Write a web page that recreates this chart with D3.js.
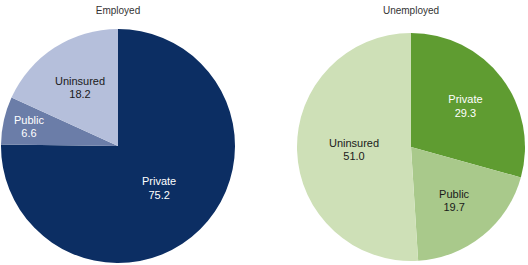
<!DOCTYPE html>
<html>
<head>
<meta charset="utf-8">
<script src="https://cdn.jsdelivr.net/npm/d3@7"></script>
<style>
	html, body { margin: 0; padding: 0; background: #fff; }
	svg { display: block; font-family: "Liberation Sans", Arial, sans-serif; }
</style>
</head>
<body>
<svg id="chart" width="528" height="265"></svg>
<script>
(function(d3) {
	'use strict';

	var groups = ['Employed', 'Unemployed'];
	var categories = ['Private', 'Public', 'Uninsured'];
	var employedValues = [75.2, 6.6, 18.2];
	var unemployedValues = [29.3, 19.7, 51.0];

	var palettes = {
		'Employed': ['#0c2e63', '#6b7da8', '#b5bfdb'],
		'Unemployed': ['#5f9c31', '#a9c98b', '#cee0b7']
	};
	var labelColors = {
		'Employed': ['#ffffff', '#ffffff', '#1a1a1a'],
		'Unemployed': ['#ffffff', '#1a1a1a', '#1a1a1a']
	};

	var svg = d3.select('#chart');
	var layout = [
		{ name: groups[0], values: employedValues, cx: 118, cy: 146, r: 117 },
		{ name: groups[1], values: unemployedValues, cx: 411, cy: 147, r: 114 }
	];

	var pie = d3.pie().sort(null).value(function(d) { return d; });

	layout.forEach(function(chart) {
		var g = svg.append('g').attr('transform', 'translate(' + chart.cx + ',' + chart.cy + ')');
		var total = d3.sum(chart.values);
		var arcs = pie(chart.values);
		var arc = d3.arc().innerRadius(0).outerRadius(chart.r);

		g.selectAll('path').data(arcs).enter().append('path')
			.attr('d', arc)
			.attr('fill', function(d, i) { return palettes[chart.name][i]; });

		/** labels: narrow slices pushed out, big slices pulled in */
		var labelArc = function(d) {
			var share = d.value / total;
			var ratio = share < 0.1 ? 0.78 : (share > 0.5 ? 0.5 : 0.6);
			var lr = ratio * chart.r;
			return d3.arc().innerRadius(lr).outerRadius(lr).centroid(d);
		};
		var labels = g.selectAll('text.slice').data(arcs).enter().append('text')
			.attr('class', 'slice')
			.attr('text-anchor', 'middle')
			.attr('font-size', 11)
			.attr('fill', function(d, i) { return labelColors[chart.name][i]; })
			.attr('transform', function(d) {
				var c = labelArc(d);
				return 'translate(' + c[0] + ',' + c[1] + ')';
			});
		labels.append('tspan').attr('x', 0).attr('dy', '-0.2em')
			.text(function(d, i) { return categories[i]; });
		labels.append('tspan').attr('x', 0).attr('dy', '1.2em')
			.text(function(d) { return d.value.toFixed(1); });

		svg.append('text')
			.attr('x', chart.cx).attr('y', 14)
			.attr('text-anchor', 'middle')
			.attr('font-size', 10)
			.attr('fill', '#333')
			.text(chart.name);
	});
})(d3);
</script>
</body>
</html>
